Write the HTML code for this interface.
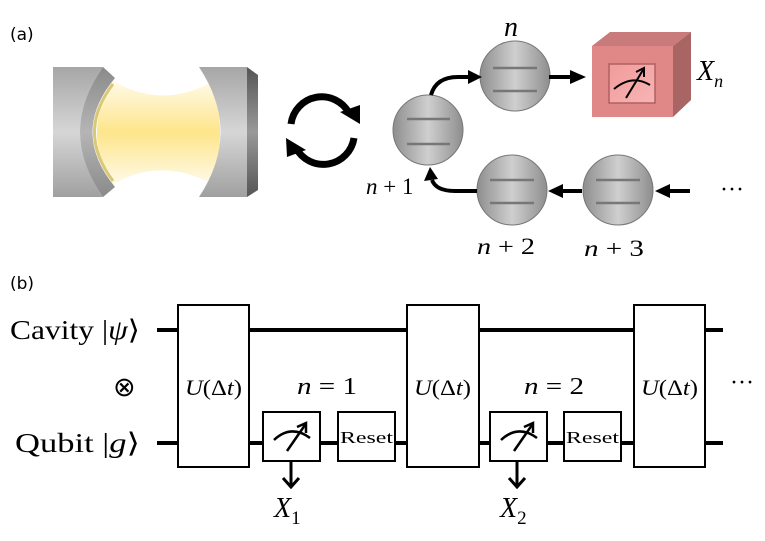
<!DOCTYPE html>
<html><head><meta charset="utf-8"><style>
html,body{margin:0;padding:0;background:#fff;}
svg{display:block;}
.m{font-family:"Liberation Serif",serif;font-style:italic;}
.r{font-family:"Liberation Serif",serif;}
</style></head><body>
<svg width="765" height="541" viewBox="0 0 765 541" xmlns="http://www.w3.org/2000/svg">
<defs>
<linearGradient id="metal" x1="0" y1="0" x2="0" y2="1">
<stop offset="0" stop-color="#a6a6a6"/><stop offset="0.5" stop-color="#d6d6d6"/><stop offset="1" stop-color="#a0a0a0"/>
</linearGradient>
<linearGradient id="rim" x1="0" y1="0" x2="0" y2="1">
<stop offset="0" stop-color="#8a8a8a"/><stop offset="0.5" stop-color="#b5b5b5"/><stop offset="1" stop-color="#8a8a8a"/>
</linearGradient>
<linearGradient id="dark" x1="0" y1="0" x2="0" y2="1">
<stop offset="0" stop-color="#555"/><stop offset="0.5" stop-color="#999"/><stop offset="1" stop-color="#555"/>
</linearGradient>
<linearGradient id="light" x1="0" y1="0" x2="0" y2="1">
<stop offset="0" stop-color="#fffaea"/><stop offset="0.5" stop-color="#fde58a"/><stop offset="1" stop-color="#fffaea"/>
</linearGradient>
<linearGradient id="sph" x1="0" y1="0" x2="1" y2="0">
<stop offset="0" stop-color="#8e8e8e"/><stop offset="0.5" stop-color="#cfcfcf"/><stop offset="1" stop-color="#8e8e8e"/>
</linearGradient>
<linearGradient id="win" x1="0" y1="0" x2="1" y2="1">
<stop offset="0" stop-color="#f29a9a"/><stop offset="1" stop-color="#f7b5b5"/>
</linearGradient>
</defs>

<text x="10" y="40" font-family="DejaVu Sans, sans-serif" font-size="17">(a)</text>
<text x="10" y="289" font-family="DejaVu Sans, sans-serif" font-size="17">(b)</text>

<!-- cavity -->
<path d="M112,80 Q160,110 212,82 Q228,132 212,184 Q160,156 112,185 Q82,132 112,80 Z" fill="url(#light)"/>
<path d="M53,67 L103,67 Q57,132 103,197 L53,197 Z" fill="url(#metal)"/>
<path d="M103,67 L115,78 Q70,132 115,187 L103,197 Q57,132 103,67 Z" fill="url(#rim)"/>
<path d="M113,84 Q76,132 113,181" stroke="#d8c878" stroke-width="3" fill="none"/>
<path d="M199,67 L247,67 L247,197 L199,197 Q242,132 199,67 Z" fill="url(#metal)"/>
<path d="M247,67 L258,75 L258,190 L247,197 Z" fill="url(#dark)"/>

<!-- cycle arrows -->
<path d="M291,124 A31,31 0 0 1 349,113" stroke="#000" stroke-width="7" fill="none"/>
<path d="M340,112 L360,124 L360,105 Z" fill="#000"/>
<path d="M354,138 A31,31 0 0 1 296,148" stroke="#000" stroke-width="7" fill="none"/>
<path d="M306,150 L286,138 L287,157 Z" fill="#000"/>

<!-- spheres -->
<g stroke="#777" stroke-width="1">
<circle cx="428" cy="130" r="35" fill="url(#sph)"/>
<circle cx="515" cy="76" r="35" fill="url(#sph)"/>
<circle cx="512" cy="190" r="35" fill="url(#sph)"/>
<circle cx="618" cy="190" r="35" fill="url(#sph)"/>
</g>
<g stroke="#777" stroke-width="2.5">
<line x1="407" y1="119" x2="450" y2="119"/><line x1="407" y1="144" x2="450" y2="144"/>
<line x1="493" y1="68" x2="537" y2="68"/><line x1="493" y1="91" x2="537" y2="91"/>
<line x1="490" y1="180" x2="534" y2="180"/><line x1="490" y1="203" x2="534" y2="203"/>
<line x1="596" y1="180" x2="640" y2="180"/><line x1="596" y1="203" x2="640" y2="203"/>
</g>
<g stroke="#000" stroke-width="4" fill="none">
<path d="M431,95 Q436,77 458,77 L470,77"/>
<line x1="549" y1="77" x2="572" y2="77"/>
<line x1="690" y1="191" x2="668" y2="191"/>
<line x1="582" y1="191" x2="562" y2="191"/>
<path d="M477,191 L455,191 Q436,191 432,180"/>
</g>
<g fill="#000">
<path d="M468,70 L482,77 L468,84 Z"/>
<path d="M570,70 L586,77 L570,84 Z"/>
<path d="M670,184 L655,191 L670,198 Z"/>
<path d="M563,184 L548,191 L563,198 Z"/>
<path d="M424,181 L430,167 L438,179 Z"/>
</g>

<!-- box -->
<path d="M592,46 L610,32 L691,32 L673,46 Z" fill="#c97a7a"/>
<path d="M673,46 L691,32 L691,100 L673,117 Z" fill="#a96464"/>
<rect x="592" y="46" width="81" height="71" fill="#e08888"/>
<rect x="609" y="64" width="46" height="39" fill="url(#win)" stroke="#b06060" stroke-width="1.5"/>
<path d="M614,89 Q632,74 650,85" stroke="#000" stroke-width="2" fill="none"/>
<line x1="626" y1="98" x2="643" y2="70" stroke="#000" stroke-width="2"/>
<path d="M636,72 L644,68 L644,77" stroke="#000" stroke-width="2" fill="none"/>

<text class="m" x="504" y="36" font-size="28">n</text>
<text class="m" x="697" y="80" font-size="28">X<tspan font-size="18" dy="7">n</tspan></text>
<text class="m" x="366" y="194" font-size="23">n<tspan font-style="normal"> + 1</tspan></text>
<text class="m" x="477" y="254" font-size="23" textLength="58" lengthAdjust="spacingAndGlyphs">n <tspan font-style="normal">+ 2</tspan></text>
<text class="m" x="584" y="256" font-size="23" textLength="60" lengthAdjust="spacingAndGlyphs">n <tspan font-style="normal">+ 3</tspan></text>
<text class="r" x="720" y="197" font-size="24">···</text>

<!-- circuit -->
<g stroke="#000" stroke-width="4">
<line x1="157" y1="330" x2="723" y2="330"/>
<line x1="157" y1="443" x2="723" y2="443"/>
</g>
<g stroke="#000" stroke-width="2" fill="#fff">
<rect x="178" y="305" width="71" height="162"/>
<rect x="407" y="305" width="72" height="162"/>
<rect x="634" y="305" width="71" height="162"/>
<rect x="263" y="412" width="57" height="49"/>
<rect x="338" y="412" width="57" height="49"/>
<rect x="490" y="412" width="57" height="49"/>
<rect x="564" y="412" width="57" height="49"/>
</g>
<g stroke="#000" stroke-width="2.5" fill="none">
<path d="M274,440 Q291,424 310,438"/><line x1="287" y1="451" x2="305" y2="425"/><path d="M297,427 L306,423 L306,433"/>
<path d="M501,440 Q518,424 537,438"/><line x1="514" y1="451" x2="532" y2="425"/><path d="M524,427 L533,423 L533,433"/>
</g>
<g stroke="#000" stroke-width="3" fill="none">
<line x1="291" y1="461" x2="291" y2="487"/><path d="M283,478 L291,487 L299,478"/>
<line x1="517" y1="461" x2="517" y2="487"/><path d="M509,478 L517,487 L525,478"/>
</g>
<text class="m" x="185" y="395" font-size="22" textLength="57" lengthAdjust="spacingAndGlyphs">U<tspan font-style="normal">(Δ</tspan>t<tspan font-style="normal">)</tspan></text>
<text class="m" x="414" y="395" font-size="22" textLength="57" lengthAdjust="spacingAndGlyphs">U<tspan font-style="normal">(Δ</tspan>t<tspan font-style="normal">)</tspan></text>
<text class="m" x="641" y="395" font-size="22" textLength="57" lengthAdjust="spacingAndGlyphs">U<tspan font-style="normal">(Δ</tspan>t<tspan font-style="normal">)</tspan></text>
<text class="r" x="340" y="443" font-size="17" textLength="53" lengthAdjust="spacingAndGlyphs">Reset</text>
<text class="r" x="566" y="443" font-size="17" textLength="53" lengthAdjust="spacingAndGlyphs">Reset</text>
<text class="m" x="297" y="394" font-size="24" textLength="60" lengthAdjust="spacingAndGlyphs">n <tspan font-style="normal">= 1</tspan></text>
<text class="m" x="524" y="394" font-size="24" textLength="60" lengthAdjust="spacingAndGlyphs">n <tspan font-style="normal">= 2</tspan></text>
<text class="m" x="274" y="517" font-size="28">X<tspan font-style="normal" font-size="19" dy="7">1</tspan></text>
<text class="m" x="500" y="517" font-size="28">X<tspan font-style="normal" font-size="19" dy="7">2</tspan></text>
<text class="r" x="730" y="390" font-size="24">···</text>
<text class="r" x="10" y="339" font-size="27" textLength="130" lengthAdjust="spacingAndGlyphs">Cavity |<tspan font-style="italic">ψ</tspan>⟩</text>
<text class="r" x="15" y="452" font-size="27" textLength="125" lengthAdjust="spacingAndGlyphs">Qubit  |<tspan font-style="italic">g</tspan>⟩</text>
<text class="r" x="113" y="396" font-size="27">⊗</text>
</svg>
</body></html>
